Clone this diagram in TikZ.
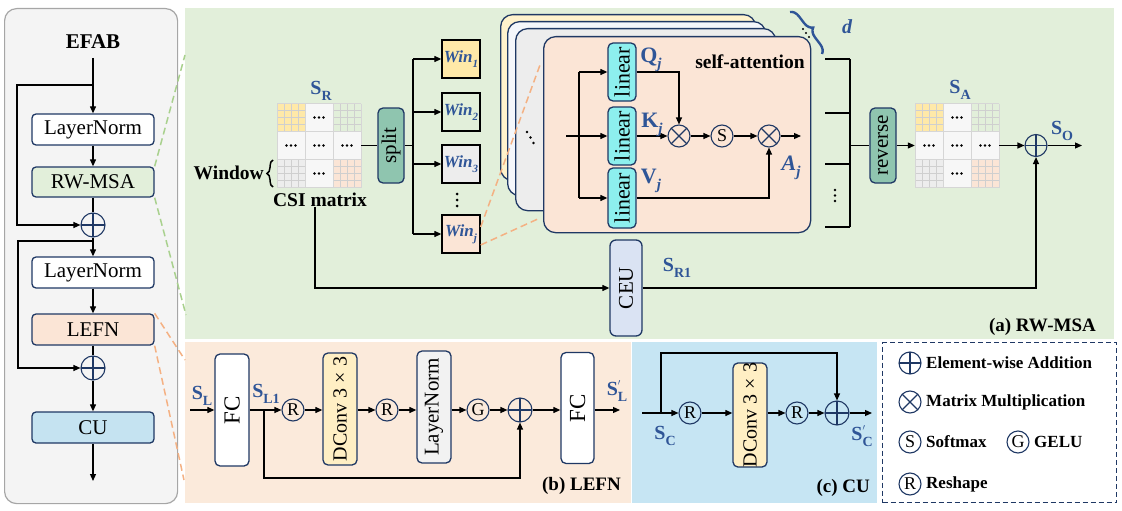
\documentclass[tikz,border=0pt]{standalone}
\usepackage{fontspec}
\usepackage{graphicx}
\setmainfont{Liberation Serif}
\usetikzlibrary{arrows.meta,decorations.pathreplacing}
\definecolor{navy}{HTML}{1F3864}
\definecolor{labblue}{HTML}{2F5597}
\definecolor{pgray}{HTML}{F4F4F4}
\definecolor{pgrayb}{HTML}{A6A6A6}
\definecolor{pgreen}{HTML}{E2EFDA}
\definecolor{porange}{HTML}{FBEADB}
\definecolor{pblue}{HTML}{C6E5F3}
\definecolor{lngreen}{HTML}{E2EFDA}
\definecolor{lnorange}{HTML}{FBE5D6}
\definecolor{cublue}{HTML}{C5E3F1}
\definecolor{tealbx}{HTML}{8FC5AF}
\definecolor{cyanl}{HTML}{8DEFEE}
\definecolor{ceuc}{HTML}{DAE3F3}
\definecolor{dconvc}{HTML}{FFEFC4}
\definecolor{lngray}{HTML}{F2F2F2}
\definecolor{mY}{HTML}{FFE9A8}
\definecolor{mG}{HTML}{E2EFDA}
\definecolor{mGr}{HTML}{EDEDED}
\definecolor{mO}{HTML}{FBE5D6}
\definecolor{cellw}{HTML}{F7F7F7}
\definecolor{gridc}{HTML}{CFCFCF}
\definecolor{cellb}{HTML}{D6D6D6}
\definecolor{dgreen}{HTML}{A9D18E}
\definecolor{dorange}{HTML}{F4B183}
\definecolor{cardA}{HTML}{FFF2CC}
\definecolor{cardB}{HTML}{F5F7FB}
\definecolor{cardC}{HTML}{EDEDED}
\definecolor{cardD}{HTML}{FBE5D6}
\newcommand\lbl[2]{\textcolor{labblue}{\bfseries #1\raisebox{-0.3em}{\fontsize{14}{14}\selectfont #2}}}
\newcommand\lblp[2]{\textcolor{labblue}{\bfseries #1\rlap{\raisebox{0.5em}{\fontsize{9}{9}\selectfont$\prime$}}\raisebox{-0.3em}{\fontsize{14}{14}\selectfont #2}}}
\newcommand\winl[1]{\textcolor{labblue}{\bfseries\itshape Win\raisebox{-0.3em}{\fontsize{11}{11}\selectfont #1}}}
\newcommand\subl[2]{\textcolor{labblue}{\bfseries #1\raisebox{-0.3em}{\itshape\fontsize{15}{15}\selectfont #2}}}
\newcommand\rt[1]{\rotatebox{90}{#1}}
\tikzset{
 csimat/.pic={
  \foreach \cx/\cy/\cc in {0/0/mY,2/0/mG,0/2/mGr,2/2/mO}{
    \fill[\cc] (\cx*28,\cy*28) rectangle ++(28,28);
    \foreach \k in {7,14,21}{
      \draw[gridc,line width=0.6pt] (\cx*28+\k,\cy*28) -- ++(0,28);
      \draw[gridc,line width=0.6pt] (\cx*28,\cy*28+\k) -- ++(28,0);
    }
  }
  \foreach \cx/\cy in {1/0,0/1,1/1,2/1,1/2}{
    \fill[cellw] (\cx*28,\cy*28) rectangle ++(28,28);
    \foreach \d in {-4.5,0,4.5}{\fill (\cx*28+14+\d,\cy*28+14) circle (1.4pt);}
  }
  \foreach \k in {0,28,56,84}{
    \draw[cellb,line width=1pt] (\k,0) -- (\k,84);
    \draw[cellb,line width=1pt] (0,\k) -- (84,\k);
  }
 }
}
\begin{document}
\begin{tikzpicture}[x=1pt,y=-1pt,
  arr/.style={-{Triangle[length=7pt,width=6pt]}, line width=1.2pt},
  ln/.style={line width=1.2pt},
  box/.style={draw=navy, line width=1.3pt, rounded corners=4pt, inner sep=0pt, font=\fontsize{21}{21}\selectfont},
  vbox/.style={box, rounded corners=5pt},
  sq/.style={draw=black, line width=1.3pt, inner sep=0pt, minimum size=38pt, font=\fontsize{17}{17}\selectfont},
  crc/.style={circle, draw=navy, line width=1.1pt, minimum size=22pt, inner sep=0pt, font=\fontsize{18}{18}\selectfont},
  oplus/.style={crc, minimum size=24pt, path picture={\draw[navy, line width=1.1pt] (path picture bounding box.north) -- (path picture bounding box.south) (path picture bounding box.west) -- (path picture bounding box.east);}},
  otimes/.style={crc, path picture={\draw[navy, line width=1.1pt] (path picture bounding box.north east) -- (path picture bounding box.south west) (path picture bounding box.north west) -- (path picture bounding box.south east);}},
  panel/.style={inner sep=0pt, anchor=north west},
  card/.style={draw=navy, line width=1.3pt, rounded corners=12pt, inner sep=0pt, anchor=north west},
  lab/.style={inner sep=0pt, font=\fontsize{20}{20}\selectfont},
  bt/.style={inner sep=0pt, font=\bfseries\fontsize{19.5}{19.5}\selectfont},
  leg/.style={inner sep=0pt, anchor=west, font=\bfseries\fontsize{17}{17}\selectfont},
  gdash/.style={dgreen, line width=1.5pt, dash pattern=on 7pt off 4pt},
  odash/.style={dorange, line width=1.5pt, dash pattern=on 7pt off 4pt},
]
\useasboundingbox (0,0) rectangle (1122,511);
% panels
\node[panel, draw=pgrayb, fill=pgray, line width=1.2pt, rounded corners=12pt, minimum width=173pt, minimum height=495pt] (lp) at (4,8) {};
\node[panel, fill=pgreen, minimum width=929pt, minimum height=331pt] (gp) at (185,8) {};
\node[panel, fill=porange, minimum width=446pt, minimum height=161pt] (op) at (185,342) {};
\node[panel, fill=pblue, minimum width=245pt, minimum height=161pt] (bp) at (632,342) {};
\node[panel, draw=navy, dash pattern=on 5pt off 3pt, line width=1.2pt, minimum width=234pt, minimum height=160pt] (lg) at (882,342) {};

% left EFAB panel
\node[font=\bfseries\fontsize{21}{21}\selectfont] (efab) at (93,42) {EFAB};
\node[box, fill=white, minimum width=122pt, minimum height=31pt] (ln1) at (93,129.5) {LayerNorm};
\node[box, fill=lngreen, minimum width=122pt, minimum height=30pt] (rw) at (93,182) {RW-MSA};
\node[oplus] (p1) at (93,225) {};
\node[box, fill=white, minimum width=122pt, minimum height=31pt] (ln2) at (93,272.5) {LayerNorm};
\node[box, fill=lnorange, minimum width=122pt, minimum height=31pt] (lefn) at (93,329.5) {LEFN};
\node[oplus] (p2) at (93,368) {};
\node[box, fill=cublue, minimum width=122pt, minimum height=31pt] (cu) at (93,427.5) {CU};
\coordinate (tin) at (93,58);
\coordinate (b1) at (93,85);
\coordinate (b2) at (93,241);
\coordinate (tout) at (93,481);
\draw[arr] (tin) -- (ln1);
\draw[arr] (b1) -- ++(-76,0) |- (p1.west);
\draw[arr] (ln1) -- (rw);
\draw[ln] (rw) -- (p1);
\draw[arr] (p1) -- (ln2);
\draw[arr] (b2) -- ++(-75,0) |- (p2.west);
\draw[arr] (ln2) -- (lefn);
\draw[ln] (lefn) -- (p2);
\draw[arr] (p2) -- (cu);
\draw[arr] (cu) -- (tout);
\draw[gdash] (rw.north east) -- (185,55);
\draw[gdash] (rw.south east) -- (186,315);
\draw[odash] (lefn.north east) -- (185,360);
\draw[odash] (lefn.south east) -- (184,480);

% RW-MSA panel
\pic at (277,103.5) {csimat};
\node[inner sep=0pt, minimum size=84pt] (SR) at (319,145.5) {};
\node[lab] (lSR) at (321,91) {\lbl{S}{R}};
\node[bt, anchor=east] (win) at (264,173) {Window};
\draw[line width=1.5pt, decorate, decoration={brace, amplitude=6pt}] (273,187) -- (273,160);
\node[bt] (csi) at (320,200) {CSI matrix};
\node[vbox, fill=tealbx, minimum width=26pt, minimum height=75pt] (split) at (391,145.5) {\rt{split}};
\draw[ln] (SR) -- (split);
\coordinate (bs) at (413,145.5);
\draw[ln] (split) -- (bs);
\node[sq, fill=mY] (w1) at (461,59) {\winl{1}};
\node[sq, fill=lngreen] (w2) at (461,112) {\winl{2}};
\node[sq, fill=mGr] (w3) at (461,164) {\winl{3}};
\node[sq, fill=mO] (wj) at (461,234) {\winl{j}};
\draw[ln] (w1.west -| bs) -- (wj.west -| bs);
\foreach \w in {w1,w2,w3,wj} \draw[arr] (\w.west -| bs) -- (\w.west);
\foreach \yy in {194,200,206} \fill (457,\yy) circle (1.5pt);

% stacked cards
\node[card, fill=cardA, minimum width=255pt, minimum height=166pt] (cA) at (500,14) {};
\node[card, fill=cardB, minimum width=258pt, minimum height=174pt] (cB) at (507,21) {};
\node[card, fill=cardC, minimum width=260pt, minimum height=182pt] (cC) at (515,28) {};
\node[card, fill=cardD, minimum width=267pt, minimum height=196pt] (cD) at (543,36) {};
\fill (527,132) circle (1.4pt) (530.5,137.5) circle (1.4pt) (533.5,143) circle (1.4pt);
\draw[odash] ([yshift=7pt]wj.east) -- (540,65);
\draw[odash] ([yshift=-11pt]wj.east) -- (540,218);

% self-attention
\node[bt] (sa) at (750,62) {self-attention};
\node[vbox, fill=cyanl, minimum width=28pt, minimum height=58pt, font=\fontsize{22}{22}\selectfont] (lq) at (622,72) {\rt{linear}};
\node[vbox, fill=cyanl, minimum width=28pt, minimum height=58pt, font=\fontsize{22}{22}\selectfont] (lk) at (622,136) {\rt{linear}};
\node[vbox, fill=cyanl, minimum width=28pt, minimum height=60pt, font=\fontsize{22}{22}\selectfont] (lv) at (622,198) {\rt{linear}};
\coordinate (ain) at (566,136);
\coordinate (asp) at (579,136);
\draw[arr] (ain) -- (lk);
\draw[ln] (asp |- lq.west) -- (asp |- lv.west);
\draw[arr] (asp |- lq.west) -- (lq.west);
\draw[arr] (asp |- lv.west) -- (lv.west);
\node[otimes] (m1) at (679,136) {};
\node[crc] (sm) at (722,136) {S};
\node[otimes] (m2) at (769,136) {};
\coordinate (aout) at (801,136);
\draw[arr] (lk) -- (m1);
\draw[arr] (lq.east) -| (m1.north);
\draw[arr] (m1) -- (sm);
\draw[arr] (sm) -- (m2);
\draw[arr] (m2) -- (aout);
\draw[arr] (lv.east) -| (m2.south);
\node[lab, font=\fontsize{22}{22}\selectfont] (lQ) at (651,60) {\subl{Q}{j}};
\node[lab, font=\fontsize{22}{22}\selectfont] (lK) at (652,125) {\subl{K}{j}};
\node[lab, font=\fontsize{22}{22}\selectfont] (lV) at (651,181) {\subl{V}{j}};
\node[lab, font=\fontsize{22}{22}\selectfont] (lA) at (791,168) {\textcolor{labblue}{\bfseries\itshape A\raisebox{-0.3em}{\fontsize{15}{15}\selectfont j}}};

% d brace
\draw[labblue, line width=2.4pt, decorate, decoration={brace, amplitude=9pt}] (790,12) -- (822,54);
\node[lab] (dl) at (847,27) {\textcolor{labblue}{\bfseries\itshape d}};
\fill (803,29) circle (1.2pt) (806,33) circle (1.2pt) (809,37) circle (1.2pt);

% right bus
\foreach \yy in {59,113,164,227} \draw[ln] (825,\yy) -- (850,\yy);
\draw[ln] (850,59) -- (850,227);
\foreach \yy in {190,195.5,201} \fill (835,\yy) circle (1.3pt);
\coordinate (rb) at (850,145.5);
\node[vbox, fill=tealbx, minimum width=26pt, minimum height=75pt] (rev) at (883,145.5) {\rt{reverse}};
\draw[ln] (rb) -- (rev);
\pic at (915,103.5) {csimat};
\node[inner sep=0pt, minimum size=84pt] (SA) at (957,145.5) {};
\node[lab] (lSA) at (960,90) {\lbl{S}{A}};
\draw[arr] (rev) -- (SA);
\node[oplus, minimum size=22pt] (pO) at (1036,145.5) {};
\draw[arr] (SA) -- (pO);
\coordinate (oend) at (1082,145.5);
\draw[arr] (pO) -- (oend);
\node[lab] (lSO) at (1062,131) {\lbl{S}{O}};

% CEU path
\node[vbox, fill=ceuc, rounded corners=6pt, minimum width=32pt, minimum height=96pt] (ceu) at (626,288) {\rt{CEU}};
\draw[arr] ([xshift=-5pt]csi.south) |- (ceu.west);
\draw[arr] (ceu.east) -| (pO.south);
\node[lab] (lSR1) at (677,268) {\lbl{S}{R1}};
\node[bt, anchor=east, font=\bfseries\fontsize{19}{19}\selectfont] (ta) at (1096,327) {(a) RW-MSA};

% LEFN panel
\coordinate (lin) at (190,410);
\node[vbox, fill=white, minimum width=34pt, minimum height=112pt, font=\fontsize{23}{23}\selectfont] (fc1) at (232,410) {\rt{FC}};
\node[crc] (r1) at (293,410) {R};
\node[vbox, fill=dconvc, minimum width=34pt, minimum height=112pt, font=\fontsize{20}{20}\selectfont] (dc1) at (340,409) {\rt{DConv 3 × 3}};
\node[crc] (r2) at (387,410) {R};
\node[vbox, fill=lngray, minimum width=34pt, minimum height=112pt, font=\fontsize{21}{21}\selectfont] (lnb) at (434,407) {\rt{LayerNorm}};
\node[crc] (g) at (478,410) {G};
\node[oplus] (pL) at (520,410) {};
\node[vbox, fill=white, minimum width=33pt, minimum height=111pt, font=\fontsize{23}{23}\selectfont] (fc2) at (577.5,408) {\rt{FC}};
\coordinate (lout) at (620,410);
\coordinate (lbr) at (264,410);
\draw[arr] (lin) -- (lin -| fc1.west);
\draw[arr] (fc1.east |- r1) -- (r1);
\draw[arr] (r1) -- (r1 -| dc1.west);
\draw[arr] (r1 -| dc1.east) -- (r2);
\draw[arr] (r2) -- (r2 -| lnb.west);
\draw[arr] (g -| lnb.east) -- (g);
\draw[arr] (g) -- (pL);
\draw[arr] (pL) -- (pL -| fc2.west);
\draw[arr] (lout -| fc2.east) -- (lout);
\draw[arr] (lbr) -- ++(0,68) -| (pL.south);
\node[lab] (lSL) at (202,396) {\lbl{S}{L}};
\node[lab] (lSL1) at (266,394) {\lbl{S}{L1}};
\node[lab] (lSLp) at (617,391) {\lblp{S}{L}};
\node[bt, anchor=east, font=\bfseries\fontsize{19}{19}\selectfont] (tb) at (621,486) {(b) LEFN};

% CU panel
\coordinate (cin) at (642,413);
\coordinate (cbr) at (661,413);
\node[crc] (cr1) at (690,413) {R};
\node[vbox, fill=dconvc, minimum width=34pt, minimum height=104pt, font=\fontsize{20}{20}\selectfont] (dc2) at (750,415) {\rt{DConv 3 × 3}};
\node[crc] (cr2) at (797,413) {R};
\node[oplus] (pC) at (837,413) {};
\coordinate (cout) at (872,413);
\draw[arr] (cin) -- (cr1);
\draw[arr] (cr1) -- (cr1 -| dc2.west);
\draw[arr] (cr2 -| dc2.east) -- (cr2);
\draw[arr] (cr2) -- (pC);
\draw[arr] (pC) -- (cout);
\draw[arr] (cbr) -- ++(0,-60) -| (pC.north);
\node[lab] (lSC) at (665,436) {\lbl{S}{C}};
\node[lab] (lSCp) at (862,436) {\lblp{S}{C}};
\node[bt, anchor=east, font=\bfseries\fontsize{19}{19}\selectfont] (tc) at (870,488) {(c) CU};

% legend
\node[oplus, minimum size=22pt] (k1) at (910,363) {};
\node[leg] (t1) at (926,363) {Element-wise Addition};
\node[otimes] (k2) at (910,402) {};
\node[leg] (t2) at (926,402) {Matrix Multiplication};
\node[crc] (k3) at (910,442) {S};
\node[leg] (t3) at (926,442) {Softmax};
\node[crc] (k4) at (1018,442) {G};
\node[leg] (t4) at (1034,442) {GELU};
\node[crc] (k5) at (910,484) {R};
\node[leg] (t5) at (926,484) {Reshape};
\end{tikzpicture}
\end{document}
